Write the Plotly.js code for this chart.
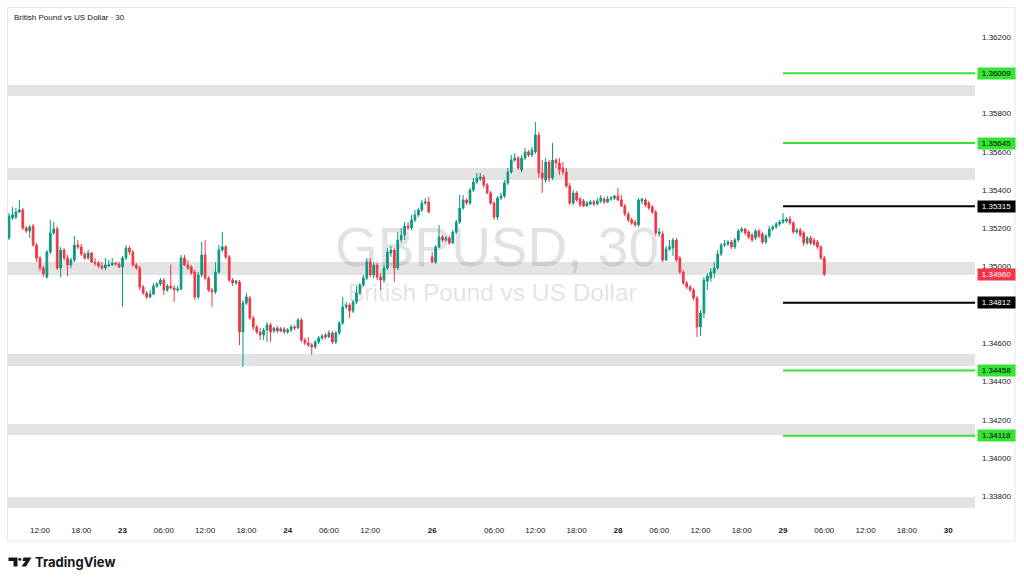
<!DOCTYPE html>
<html>
<head>
<meta charset="utf-8">
<script src="https://cdn.plot.ly/plotly-3.0.1.min.js"></script>
<style>
  html, body { margin: 0; padding: 0; background: #ffffff; }
  #chart { width: 1024px; height: 582px; }
</style>
</head>
<body>
<div id="chart"></div>
<script>
// ---- data: GBPUSD 30-minute candles ----
const firstBar = -9; // bar index of the first candle (12:00 on the 22nd = 0)

const open = [
  1.35150, 1.35254, 1.35259, 1.35285, 1.35296, 1.35202, 1.35186, 1.35212, 1.35113, 1.35045,
  1.34993, 1.34946, 1.35077, 1.35176, 1.35197, 1.34993, 1.35087, 1.35045, 1.35009, 1.35035,
  1.35113, 1.35103, 1.35066, 1.35045, 1.35071, 1.35024, 1.35019, 1.35004, 1.34993, 1.35004,
  1.35009, 1.35019, 1.35014, 1.34998, 1.35045, 1.35097, 1.35077, 1.35009, 1.34993, 1.34894,
  1.34863, 1.34842, 1.34857, 1.34899, 1.34910, 1.34930, 1.34878, 1.34899, 1.34889, 1.34878,
  1.34883, 1.35045, 1.35009, 1.34998, 1.34972, 1.34842, 1.34957, 1.35061, 1.34941, 1.34878,
  1.34868, 1.34972, 1.35087, 1.35103, 1.35051, 1.34930, 1.34915, 1.34920, 1.34659, 1.34810,
  1.34836, 1.34732, 1.34685, 1.34659, 1.34643, 1.34669, 1.34696, 1.34664, 1.34680, 1.34664,
  1.34675, 1.34659, 1.34669, 1.34685, 1.34680, 1.34722, 1.34617, 1.34602, 1.34591, 1.34581,
  1.34607, 1.34628, 1.34643, 1.34633, 1.34654, 1.34607, 1.34654, 1.34706, 1.34790, 1.34800,
  1.34769, 1.34816, 1.34863, 1.34904, 1.34941, 1.35024, 1.34957, 1.35009, 1.34946, 1.34930,
  1.34993, 1.35071, 1.35087, 1.34993, 1.35139, 1.35165, 1.35212, 1.35202, 1.35244, 1.35270,
  1.35296, 1.35332, 1.35338,
  1.35051, 1.35024, 1.35103, 1.35155, 1.35139, 1.35150, 1.35124,
  1.35181, 1.35233, 1.35306, 1.35348, 1.35332, 1.35400, 1.35442, 1.35458, 1.35468, 1.35426,
  1.35385, 1.35332, 1.35259, 1.35358, 1.35369, 1.35437, 1.35494, 1.35557, 1.35567, 1.35505,
  1.35567, 1.35599, 1.35583, 1.35599, 1.35687, 1.35489, 1.35452, 1.35546, 1.35463, 1.35557,
  1.35541, 1.35515, 1.35494, 1.35421, 1.35332, 1.35385, 1.35353, 1.35343, 1.35317, 1.35327,
  1.35338, 1.35327, 1.35343, 1.35353, 1.35338, 1.35353, 1.35358, 1.35369, 1.35348, 1.35317,
  1.35275, 1.35244, 1.35233, 1.35218, 1.35343, 1.35348, 1.35332, 1.35311, 1.35285, 1.35171,
  1.35171, 1.35035, 1.35092, 1.35097, 1.35139, 1.35045, 1.34972, 1.34915, 1.34894, 1.34878,
  1.34836, 1.34685, 1.34758, 1.34925, 1.34941, 1.34967, 1.34993, 1.35066, 1.35113, 1.35118,
  1.35129, 1.35103, 1.35139, 1.35186, 1.35197, 1.35181, 1.35165, 1.35150, 1.35186, 1.35171,
  1.35129, 1.35160, 1.35197, 1.35207, 1.35223, 1.35233, 1.35238, 1.35249, 1.35228, 1.35181,
  1.35191, 1.35176, 1.35124, 1.35150, 1.35139, 1.35129, 1.35103, 1.35045
];

const high = [
  1.35280, 1.35311, 1.35306, 1.35348, 1.35306, 1.35212, 1.35218, 1.35223, 1.35124, 1.35056,
  1.35004, 1.35087, 1.35244, 1.35233, 1.35212, 1.35103, 1.35097, 1.35061, 1.35045, 1.35160,
  1.35139, 1.35118, 1.35077, 1.35087, 1.35077, 1.35045, 1.35030, 1.35024, 1.35045, 1.35035,
  1.35045, 1.35024, 1.35024, 1.35056, 1.35113, 1.35108, 1.35087, 1.35019, 1.35004, 1.34904,
  1.34873, 1.34878, 1.34915, 1.34920, 1.34941, 1.34941, 1.34910, 1.35009, 1.34904, 1.34899,
  1.35061, 1.35061, 1.35035, 1.35009, 1.34983, 1.34972, 1.35129, 1.35139, 1.34951, 1.34889,
  1.35024, 1.35113, 1.35181, 1.35113, 1.35061, 1.34941, 1.34930, 1.34930, 1.34826, 1.34863,
  1.34847, 1.34743, 1.34696, 1.34680, 1.34680, 1.34711, 1.34706, 1.34685, 1.34690, 1.34685,
  1.34685, 1.34680, 1.34696, 1.34696, 1.34732, 1.34732, 1.34628, 1.34633, 1.34602, 1.34617,
  1.34638, 1.34649, 1.34654, 1.34669, 1.34664, 1.34664, 1.34716, 1.34842, 1.34816, 1.34810,
  1.34826, 1.34899, 1.34915, 1.34957, 1.35045, 1.35045, 1.35024, 1.35019, 1.34967, 1.35009,
  1.35097, 1.35108, 1.35097, 1.35181, 1.35202, 1.35233, 1.35233, 1.35270, 1.35296, 1.35306,
  1.35348, 1.35358, 1.35364,
  1.35077, 1.35113, 1.35218, 1.35165, 1.35160, 1.35160, 1.35191,
  1.35244, 1.35374, 1.35374, 1.35358, 1.35411, 1.35463, 1.35489, 1.35489, 1.35479, 1.35437,
  1.35395, 1.35343, 1.35369, 1.35385, 1.35452, 1.35515, 1.35583, 1.35593, 1.35578, 1.35583,
  1.35619, 1.35609, 1.35625, 1.35755, 1.35703, 1.35557, 1.35567, 1.35557, 1.35646, 1.35567,
  1.35567, 1.35546, 1.35515, 1.35437, 1.35400, 1.35395, 1.35364, 1.35353, 1.35343, 1.35348,
  1.35348, 1.35358, 1.35374, 1.35364, 1.35369, 1.35369, 1.35374, 1.35411, 1.35374, 1.35327,
  1.35285, 1.35254, 1.35244, 1.35358, 1.35358, 1.35358, 1.35343, 1.35322, 1.35296, 1.35202,
  1.35186, 1.35108, 1.35139, 1.35150, 1.35150, 1.35056, 1.34983, 1.34925, 1.34904, 1.34889,
  1.34847, 1.34774, 1.34946, 1.34967, 1.34993, 1.35024, 1.35087, 1.35124, 1.35139, 1.35139,
  1.35139, 1.35150, 1.35197, 1.35207, 1.35202, 1.35191, 1.35176, 1.35197, 1.35197, 1.35181,
  1.35171, 1.35212, 1.35218, 1.35233, 1.35244, 1.35280, 1.35259, 1.35264, 1.35238, 1.35202,
  1.35202, 1.35186, 1.35160, 1.35160, 1.35150, 1.35139, 1.35113, 1.35056
];

const low = [
  1.35139, 1.35244, 1.35249, 1.35280, 1.35191, 1.35176, 1.35150, 1.35103, 1.35024, 1.34977,
  1.34946, 1.34936, 1.35066, 1.35165, 1.34983, 1.34946, 1.35030, 1.34951, 1.34993, 1.35024,
  1.35092, 1.35056, 1.35035, 1.35035, 1.35019, 1.35004, 1.34993, 1.34983, 1.34983, 1.34998,
  1.35004, 1.35004, 1.34993, 1.34790, 1.35035, 1.35061, 1.34998, 1.34983, 1.34878, 1.34852,
  1.34831, 1.34836, 1.34852, 1.34889, 1.34899, 1.34852, 1.34868, 1.34883, 1.34816, 1.34868,
  1.34878, 1.35004, 1.34983, 1.34957, 1.34826, 1.34831, 1.34946, 1.34930, 1.34868, 1.34790,
  1.34857, 1.34962, 1.35077, 1.35040, 1.34920, 1.34899, 1.34904, 1.34591, 1.34476, 1.34800,
  1.34722, 1.34669, 1.34649, 1.34617, 1.34617, 1.34607, 1.34607, 1.34654, 1.34654, 1.34659,
  1.34649, 1.34649, 1.34659, 1.34669, 1.34675, 1.34607, 1.34591, 1.34581, 1.34539, 1.34570,
  1.34596, 1.34617, 1.34622, 1.34628, 1.34596, 1.34596, 1.34643, 1.34696, 1.34779, 1.34732,
  1.34758, 1.34805, 1.34852, 1.34894, 1.34930, 1.34946, 1.34941, 1.34930, 1.34878, 1.34915,
  1.34983, 1.35051, 1.34920, 1.34983, 1.35124, 1.35139, 1.35191, 1.35191, 1.35233, 1.35259,
  1.35285, 1.35322, 1.35280,
  1.35019, 1.35014, 1.35097, 1.35129, 1.35129, 1.35113, 1.35118,
  1.35171, 1.35223, 1.35296, 1.35322, 1.35322, 1.35390, 1.35432, 1.35447, 1.35411, 1.35379,
  1.35322, 1.35244, 1.35244, 1.35348, 1.35358, 1.35426, 1.35484, 1.35546, 1.35505, 1.35494,
  1.35557, 1.35572, 1.35572, 1.35588, 1.35463, 1.35385, 1.35437, 1.35442, 1.35452, 1.35515,
  1.35479, 1.35479, 1.35411, 1.35322, 1.35322, 1.35338, 1.35311, 1.35311, 1.35311, 1.35322,
  1.35317, 1.35322, 1.35332, 1.35327, 1.35332, 1.35343, 1.35348, 1.35343, 1.35311, 1.35264,
  1.35233, 1.35218, 1.35207, 1.35207, 1.35327, 1.35311, 1.35296, 1.35275, 1.35160, 1.35155,
  1.35024, 1.35030, 1.35082, 1.35056, 1.35024, 1.34962, 1.34904, 1.34883, 1.34868, 1.34826,
  1.34633, 1.34638, 1.34732, 1.34878, 1.34920, 1.34941, 1.34983, 1.35056, 1.35103, 1.35108,
  1.35092, 1.35092, 1.35129, 1.35176, 1.35165, 1.35144, 1.35129, 1.35139, 1.35150, 1.35118,
  1.35118, 1.35150, 1.35186, 1.35197, 1.35212, 1.35223, 1.35228, 1.35218, 1.35171, 1.35171,
  1.35155, 1.35108, 1.35113, 1.35113, 1.35108, 1.35092, 1.35035, 1.34951
];

const close = [
  1.35264, 1.35270, 1.35285, 1.35296, 1.35202, 1.35186, 1.35207, 1.35113, 1.35045, 1.34993,
  1.34962, 1.35077, 1.35176, 1.35197, 1.34993, 1.35087, 1.35045, 1.35009, 1.35035, 1.35113,
  1.35103, 1.35066, 1.35045, 1.35071, 1.35024, 1.35019, 1.35004, 1.34993, 1.35009, 1.35009,
  1.35019, 1.35014, 1.34998, 1.35045, 1.35097, 1.35077, 1.35009, 1.34993, 1.34894, 1.34863,
  1.34842, 1.34857, 1.34899, 1.34910, 1.34930, 1.34878, 1.34899, 1.34889, 1.34878, 1.34883,
  1.35045, 1.35009, 1.34993, 1.34967, 1.34842, 1.34957, 1.35061, 1.34941, 1.34878, 1.34868,
  1.34972, 1.35087, 1.35103, 1.35051, 1.34930, 1.34915, 1.34925, 1.34659, 1.34810, 1.34842,
  1.34732, 1.34685, 1.34659, 1.34643, 1.34669, 1.34696, 1.34659, 1.34680, 1.34664, 1.34675,
  1.34659, 1.34669, 1.34685, 1.34680, 1.34722, 1.34617, 1.34602, 1.34591, 1.34581, 1.34607,
  1.34628, 1.34638, 1.34633, 1.34654, 1.34607, 1.34654, 1.34706, 1.34790, 1.34800, 1.34769,
  1.34816, 1.34863, 1.34904, 1.34941, 1.35024, 1.34957, 1.35009, 1.34946, 1.34930, 1.34993,
  1.35077, 1.35087, 1.34993, 1.35139, 1.35165, 1.35212, 1.35202, 1.35244, 1.35270, 1.35296,
  1.35332, 1.35338, 1.35285,
  1.35024, 1.35103, 1.35155, 1.35139, 1.35150, 1.35124, 1.35181,
  1.35233, 1.35306, 1.35348, 1.35332, 1.35400, 1.35442, 1.35463, 1.35468, 1.35426, 1.35385,
  1.35332, 1.35259, 1.35358, 1.35369, 1.35437, 1.35494, 1.35557, 1.35567, 1.35515, 1.35567,
  1.35599, 1.35583, 1.35609, 1.35687, 1.35489, 1.35463, 1.35546, 1.35463, 1.35557, 1.35541,
  1.35505, 1.35494, 1.35421, 1.35332, 1.35385, 1.35348, 1.35322, 1.35317, 1.35332, 1.35338,
  1.35327, 1.35343, 1.35358, 1.35338, 1.35353, 1.35358, 1.35369, 1.35348, 1.35317, 1.35275,
  1.35244, 1.35228, 1.35218, 1.35348, 1.35353, 1.35322, 1.35306, 1.35285, 1.35176, 1.35181,
  1.35035, 1.35092, 1.35103, 1.35139, 1.35035, 1.34972, 1.34915, 1.34894, 1.34878, 1.34836,
  1.34685, 1.34758, 1.34930, 1.34951, 1.34972, 1.34993, 1.35066, 1.35113, 1.35118, 1.35129,
  1.35103, 1.35139, 1.35186, 1.35197, 1.35176, 1.35155, 1.35139, 1.35186, 1.35160, 1.35129,
  1.35160, 1.35197, 1.35207, 1.35223, 1.35233, 1.35244, 1.35249, 1.35228, 1.35181, 1.35191,
  1.35165, 1.35124, 1.35150, 1.35124, 1.35118, 1.35103, 1.35045, 1.34960
];

// time-axis ticks (bar index -> label)
const tickIndex = [0, 12, 24, 36, 48, 60, 72, 84, 96, 114, 132, 144, 156, 168, 180, 192, 204, 216, 228, 240, 252, 264];
const tickText  = ['12:00', '18:00', '<b>23</b>', '06:00', '12:00', '18:00', '<b>24</b>', '06:00', '12:00', '<b>26</b>',
                   '06:00', '12:00', '18:00', '<b>28</b>', '06:00', '12:00', '18:00', '<b>29</b>', '06:00', '12:00', '18:00', '<b>30</b>'];

// price-axis ticks
const priceTicks = [1.362, 1.358, 1.356, 1.354, 1.352, 1.350, 1.346, 1.344, 1.342, 1.340, 1.338];

// drawn levels and zones
const greenLevels = [1.36009, 1.35645, 1.34458, 1.34118];
const blackLevels = [1.35315, 1.34812];
const levelStartBar = 216;
const zoneTop    = [1.35948, 1.35515, 1.35024, 1.34544, 1.34179, 1.33798];
const zoneBottom = [1.35891, 1.35452, 1.34956, 1.34481, 1.34121, 1.33740];

const chartTitle = 'British Pound vs US Dollar · 30';
const watermarkMain = 'GBPUSD, 30';
const watermarkSub = 'British Pound vs US Dollar';
const brandText = 'TradingView';

// ---- layout geometry ----
const W = 1024, H = 582;
const M = { l: 8, r: 49, t: 8, b: 70 };
const PW = W - M.l - M.r, PH = H - M.t - M.b;
const px = x => (x - M.l) / PW;          // pixel -> paper x
const py = y => (H - M.b - y) / PH;      // pixel -> paper y

const UP = '#089981', DOWN = '#f23645', LIME = '#35e335';
const barIndex = open.map((_, k) => firstBar + k);
const lastClose = close[close.length - 1];

const candles = {
  type: 'candlestick',
  x: barIndex, open: open, high: high, low: low, close: close,
  increasing: { line: { color: UP, width: 1 }, fillcolor: UP },
  decreasing: { line: { color: DOWN, width: 1 }, fillcolor: DOWN },
  whiskerwidth: 0,
  hoverinfo: 'skip',
  showlegend: false
};

const shapes = [];
// frame
shapes.push({ type: 'rect', xref: 'paper', yref: 'paper', x0: px(7.5), x1: px(1015), y0: py(541), y1: py(7.5),
  line: { color: '#e6e8ee', width: 1 }, fillcolor: 'rgba(0,0,0,0)', layer: 'below' });
// zones
zoneTop.forEach((t, k) => shapes.push({ type: 'rect', xref: 'paper', yref: 'y', x0: 0, x1: 1,
  y0: zoneBottom[k], y1: t, line: { width: 0 }, fillcolor: '#e3e3e3', layer: 'below' }));
// levels
const xMax = (975 - 40) / 3.44, xMin = (8 - 40) / 3.44;
greenLevels.forEach(v => shapes.push({ type: 'line', xref: 'x', yref: 'y', x0: levelStartBar, x1: xMax, y0: v, y1: v,
  line: { color: LIME, width: 2 } }));
blackLevels.forEach(v => shapes.push({ type: 'line', xref: 'x', yref: 'y', x0: levelStartBar, x1: xMax, y0: v, y1: v,
  line: { color: '#000000', width: 2 } }));
// TradingView logo
const path = pts => 'M' + pts.map(p => px(p[0]) + ',' + py(p[1])).join(' L') + ' Z';
shapes.push({ type: 'path', xref: 'paper', yref: 'paper', path: path([[8.5,557.5],[17.5,557.5],[17.5,566.5],[13.5,566.5],[13.5,561],[8.5,561]]),
  fillcolor: '#131722', line: { width: 0 } });
shapes.push({ type: 'circle', xref: 'paper', yref: 'paper', x0: px(18.3), x1: px(21.3), y0: py(560.8), y1: py(557.8),
  fillcolor: '#131722', line: { width: 0 } });
shapes.push({ type: 'path', xref: 'paper', yref: 'paper', path: path([[23.5,557.5],[31.5,557.5],[26,566.5],[21.5,566.5],[25.5,561],[22.5,561]]),
  fillcolor: '#131722', line: { width: 0 } });

const annotations = [];
annotations.push({ xref: 'paper', yref: 'paper', x: px(12), y: py(17), xanchor: 'left', yanchor: 'middle',
  text: chartTitle, showarrow: false, font: { family: 'Liberation Sans, Arial, sans-serif', size: 8, color: '#131722' } });
annotations.push({ xref: 'paper', yref: 'paper', x: px(497), y: py(247), xanchor: 'center', yanchor: 'middle',
  text: watermarkMain, showarrow: false, font: { family: 'Liberation Sans, Arial, sans-serif', size: 55, color: 'rgba(120,123,134,0.22)' } });
annotations.push({ xref: 'paper', yref: 'paper', x: px(492), y: py(292), xanchor: 'center', yanchor: 'middle',
  text: watermarkSub, showarrow: false, font: { family: 'Liberation Sans, Arial, sans-serif', size: 24.5, color: 'rgba(120,123,134,0.22)' } });
annotations.push({ xref: 'paper', yref: 'paper', x: px(33), y: py(561.5), xanchor: 'left', yanchor: 'middle',
  text: '<b>' + brandText + '</b>', showarrow: false, font: { family: 'Inter, Roboto, sans-serif', size: 13, color: '#131722' } });

function priceLabel(v, bg, fg) {
  annotations.push({ xref: 'paper', yref: 'y', x: px(977), y: v, xanchor: 'left', yanchor: 'middle',
    text: v.toFixed(5), showarrow: false, bgcolor: bg, borderpad: 1, width: 35, height: 9, align: 'center',
    font: { family: 'Liberation Sans, Arial, sans-serif', size: 8, color: fg } });
}
greenLevels.forEach(v => priceLabel(v, LIME, '#000000'));
blackLevels.forEach(v => priceLabel(v, '#000000', '#ffffff'));
priceLabel(lastClose, DOWN, '#ffffff');

const layout = {
  width: W, height: H,
  margin: M,
  paper_bgcolor: '#ffffff', plot_bgcolor: '#ffffff',
  showlegend: false,
  hovermode: false,
  xaxis: {
    range: [xMin, xMax], fixedrange: true,
    rangeslider: { visible: false },
    showgrid: false, zeroline: false, showline: false, ticks: '',
    tickmode: 'array', tickvals: tickIndex, ticktext: tickText,
    ticklabelstandoff: 12,
    tickfont: { family: 'Liberation Sans, Arial, sans-serif', size: 8, color: '#131722' }
  },
  yaxis: {
    side: 'right',
    range: [1.36392 - 0.0000522 * 512, 1.36392 - 0.0000522 * 8], fixedrange: true,
    showgrid: false, zeroline: false, showline: false, ticks: '',
    tickmode: 'array', tickvals: priceTicks, ticktext: priceTicks.map(v => v.toFixed(5)),
    ticklabelstandoff: 6,
    tickfont: { family: 'Liberation Sans, Arial, sans-serif', size: 8, color: '#131722' }
  },
  shapes: shapes,
  annotations: annotations
};

Plotly.newPlot('chart', [candles], layout, { displayModeBar: false, staticPlot: true });
</script>
</body>
</html>
